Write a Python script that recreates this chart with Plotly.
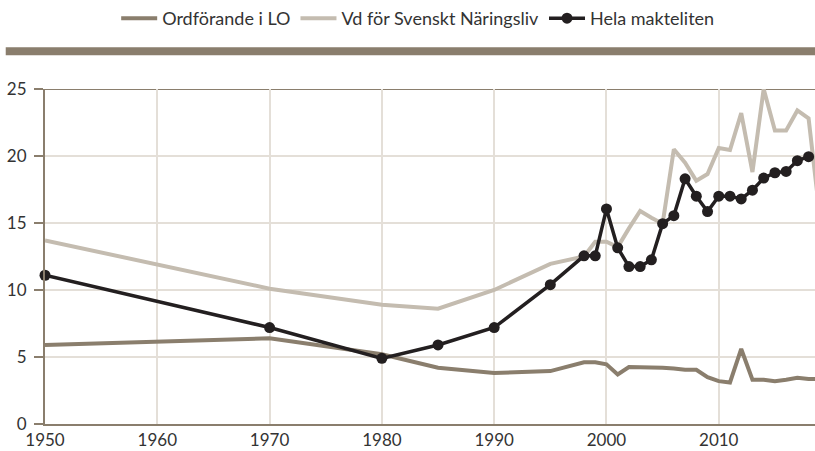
import plotly.graph_objects as go

years_lo = [1950, 1970, 1980, 1985, 1990, 1995, 1998, 1999, 2000, 2001, 2002, 2003, 2004, 2005,
            2006, 2007, 2008, 2009, 2010, 2011, 2012, 2013, 2014, 2015, 2016, 2017, 2018, 2019]
lo = [5.9, 6.4, 5.2, 4.2, 3.8, 3.95, 4.6, 4.6, 4.45, 3.7, 4.25, 4.25, 4.25, 4.2,
      4.15, 4.05, 4.05, 3.5, 3.2, 3.1, 5.6, 3.3, 3.3, 3.2, 3.3, 3.45, 3.35, 3.35]

years_vd = [1950, 1970, 1980, 1985, 1990, 1995, 1998, 1999, 2000, 2001, 2002, 2003, 2004, 2005,
            2006, 2007, 2008, 2009, 2010, 2011, 2012, 2013, 2014, 2015, 2016, 2017, 2018, 2019]
vd = [13.7, 10.1, 8.9, 8.6, 10.0, 11.95, 12.5, 13.6, 13.6, 13.2, 14.6, 15.9, 15.4, 14.95,
      20.5, 19.5, 18.15, 18.65, 20.6, 20.45, 23.2, 18.8, 25.0, 21.9, 21.9, 23.4, 22.8, 15.5]

years_all = [1950, 1970, 1980, 1985, 1990, 1995, 1998, 1999, 2000, 2001, 2002, 2003, 2004, 2005,
             2006, 2007, 2008, 2009, 2010, 2011, 2012, 2013, 2014, 2015, 2016, 2017, 2018]
hela = [11.1, 7.2, 4.9, 5.9, 7.2, 10.4, 12.55, 12.55, 16.05, 13.15, 11.75, 11.75, 12.25, 14.95,
        15.55, 18.3, 17.0, 15.85, 17.0, 17.0, 16.8, 17.45, 18.35, 18.75, 18.85, 19.65, 19.95]

x_ticks = [1950, 1960, 1970, 1980, 1990, 2000, 2010]
y_ticks = [0, 5, 10, 15, 20, 25]

AXIS = "#8a7e6d"
GRID = "#e4dfd8"
C_LO = "#8a7e6d"
C_VD = "#c4bcb0"
C_ALL = "#231f20"
FONT = "Lato"
TXT = "#333333"

fig = go.Figure()
fig.add_trace(go.Scatter(x=years_lo, y=lo, mode="lines", name="Ordförande i LO",
                         line=dict(color=C_LO, width=4), cliponaxis=False))
fig.add_trace(go.Scatter(x=years_vd, y=vd, mode="lines", name="Vd för Svenskt Näringsliv",
                         line=dict(color=C_VD, width=4), cliponaxis=False))
fig.add_trace(go.Scatter(x=years_all, y=hela, mode="lines+markers", name="Hela makteliten",
                         line=dict(color=C_ALL, width=3.5),
                         marker=dict(color=C_ALL, size=11), cliponaxis=False))

# thick band under legend
fig.add_shape(type="line", xref="paper", yref="paper", x0=-0.051, x1=1.0, y0=1.113, y1=1.113,
              line=dict(color=AXIS, width=8), layer="above")
# top line at 25
fig.add_shape(type="line", xref="paper", yref="y", x0=0, x1=1, y0=25, y1=25,
              line=dict(color=AXIS, width=2), layer="below")

fig.update_layout(
    width=815, height=451,
    margin=dict(l=45, r=0, t=88, b=27),
    paper_bgcolor="white", plot_bgcolor="white",
    font=dict(family=FONT, size=17, color=TXT),
    showlegend=True,
    legend=dict(orientation="h", x=0.484, xanchor="center", y=1.211, yanchor="middle",
                font=dict(family=FONT, size=18, color=TXT),
                itemwidth=36, traceorder="normal"),
    xaxis=dict(range=[1950, 2018.57], tickmode="array", tickvals=x_ticks,
               showgrid=True, gridcolor=GRID, gridwidth=2,
               showline=True, linecolor=AXIS, linewidth=2,
               ticks="", zeroline=False, tickfont=dict(size=17, color=TXT)),
    yaxis=dict(range=[0, 25], tickmode="array", tickvals=y_ticks,
               showgrid=True, gridcolor=GRID, gridwidth=2,
               showline=True, linecolor=AXIS, linewidth=2,
               ticks="outside", ticklen=9, tickcolor=AXIS, tickwidth=2,
               ticklabelstandoff=4,
               zeroline=False, tickfont=dict(size=17, color=TXT)),
)

fig.write_html("out.html",
               config={"displayModeBar": False, "staticPlot": True},
               post_script="document.body.style.margin='0';document.body.style.overflow='hidden';")
